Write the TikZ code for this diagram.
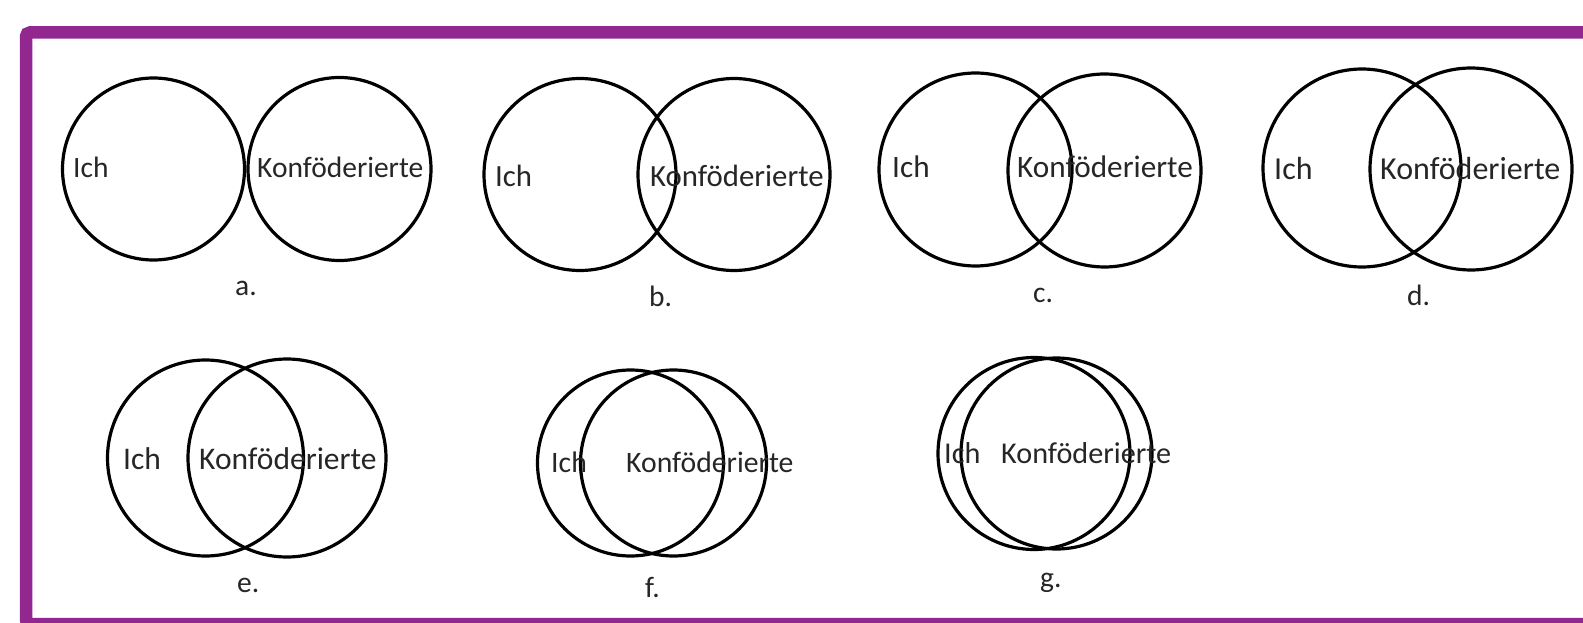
\documentclass[tikz,border=0pt]{standalone}
\usepackage{fontspec}
\setmainfont{Carlito}
\definecolor{framepurple}{RGB}{146,39,143}
\definecolor{txt}{RGB}{38,38,38}
\begin{document}
\begin{tikzpicture}[x=1pt,y=-1pt,
  venn/.style={circle,draw=black,line width=3.2pt,inner sep=0pt,outer sep=0pt,minimum size=#1},
  lbl/.style={anchor=base west,inner sep=0pt,text=txt,font=\fontsize{#1}{#1}\selectfont},
  captionlbl/.style={anchor=base west,inner sep=0pt,text=txt,font=\fontsize{29.5}{29.5}\selectfont}]
\useasboundingbox (0,0) rectangle (1583,623);
\clip (0,0) rectangle (1583,623);
\fill[white] (0,0) rectangle (1583,623);
\draw[framepurple,line width=12.5pt,rounded corners=4pt] (26,32.5) rectangle (1620,624);
% a
\node[venn=182pt] (aL) at (153.5,169) {};
\node[venn=183pt] (aR) at (339.5,169) {};
\node[lbl=29.5] (aI) at (73,178) {Ich};
\node[lbl=29.5] (aK) at (257,178) {Konföderierte};
\node[captionlbl] (aC) at (235,295) {a.};
% b
\node[venn=192pt] (bL) at (580,174.5) {};
\node[venn=192pt] (bR) at (734,174.5) {};
\node[lbl=30.8] (bI) at (495,186) {Ich};
\node[lbl=30.8] (bK) at (650,186) {Konföderierte};
\node[captionlbl] (bC) at (649,306) {b.};
% c
\node[venn=193pt] (cL) at (975.5,169.5) {};
\node[venn=193pt] (cR) at (1104.5,170.5) {};
\node[lbl=31.2] (cI) at (892,178) {Ich};
\node[lbl=31.2] (cK) at (1017,178) {Konföderierte};
\node[captionlbl] (cC) at (1033,302) {c.};
% d
\node[venn=198pt] (dL) at (1362,168) {};
\node[venn=202pt] (dR) at (1471,169) {};
\node[lbl=32] (dI) at (1274,179) {Ich};
\node[lbl=32] (dK) at (1380,179) {Konföderierte};
\node[captionlbl] (dC) at (1407,305) {d.};
% e
\node[venn=196pt] (eL) at (205.5,458) {};
\node[venn=198pt] (eR) at (287,458) {};
\node[lbl=31.5] (eI) at (123,469) {Ich};
\node[lbl=31.5] (eK) at (199,469) {Konföderierte};
\node[captionlbl] (eC) at (237,592) {e.};
% f
\node[venn=186pt] (fL) at (630.5,463) {};
\node[venn=186pt] (fR) at (673.5,463) {};
\node[lbl=29.7] (fI) at (551,472) {Ich};
\node[lbl=29.7] (fK) at (626,472) {Konföderierte};
\node[captionlbl] (fC) at (645,597) {f.};
% g
\node[venn=192pt] (gL) at (1034,453.5) {};
\node[venn=191pt] (gR) at (1056.5,453.5) {};
\node[lbl=30.2] (gI) at (944,463) {Ich};
\node[lbl=30.2] (gK) at (1001,463) {Konföderierte};
\node[captionlbl] (gC) at (1040,587) {g.};
\end{tikzpicture}
\end{document}
